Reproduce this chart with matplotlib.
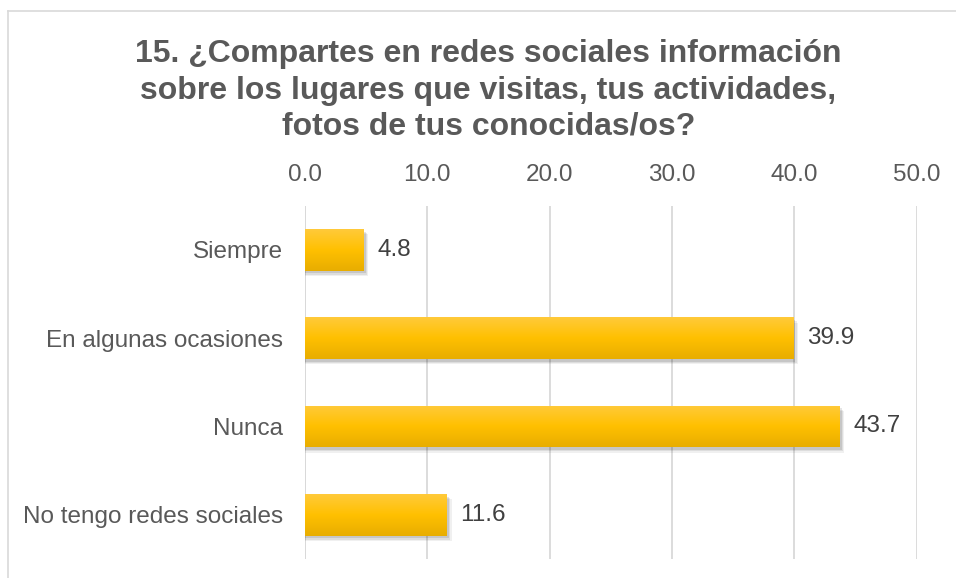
import numpy as np
import matplotlib.pyplot as plt
from matplotlib.colors import LinearSegmentedColormap
from matplotlib.patches import Rectangle
from matplotlib.lines import Line2D

categories = ["Siempre", "En algunas ocasiones", "Nunca", "No tengo redes sociales"]
values = [4.8, 39.9, 43.7, 11.6]
ticks = [0, 10, 20, 30, 40, 50]

title = ("15. ¿Compartes en redes sociales información\n"
         "sobre los lugares que visitas, tus actividades,\n"
         "fotos de tus conocidas/os?")

plt.rcParams['font.family'] = ['Liberation Sans', 'DejaVu Sans']

fig = plt.figure(figsize=(9.56, 5.78), dpi=100)
ax = fig.add_axes([0.319, 0.033, 0.64, 0.611])

grad = LinearSegmentedColormap.from_list("gold", ["#ffca3a", "#ffc000", "#e8ad00"])
height = 0.47
y = np.arange(len(categories))

for i, v in enumerate(values):
    # soft shadow
    for k, a in enumerate([0.10, 0.08, 0.06]):
        d = 0.15 + k * 0.12
        ax.add_patch(Rectangle((0, i - height / 2 + 0.03 + k * 0.015), v + d, height,
                               facecolor="black", alpha=a, edgecolor="none", zorder=2))
    bar = ax.barh(i, v, height, color="none", zorder=3)[0]
    img = ax.imshow(np.linspace(0, 1, 100).reshape(-1, 1), cmap=grad, aspect="auto",
                    extent=[0, v, i + height / 2, i - height / 2], zorder=3)
    img.set_clip_path(bar)
    ax.text(v + 1.1, i, "{:.1f}".format(v), va="center", ha="left",
            fontsize=17.5, color="#404040", zorder=4)

ax.set_xlim(0, 50)
ax.set_ylim(len(categories) - 0.5, -0.5)
ax.set_xticks(ticks)
ax.set_xticklabels(["{:.1f}".format(t) for t in ticks])
ax.set_yticks(y)
ax.set_yticklabels(categories)
ax.xaxis.tick_top()
ax.tick_params(axis="both", length=0, labelsize=17.5, labelcolor="#595959")
ax.tick_params(axis="x", pad=14)
ax.tick_params(axis="y", pad=16)
ax.grid(axis="x", color="#d9d9d9", linewidth=1.3, zorder=0)
ax.set_axisbelow(True)
for s in ax.spines.values():
    s.set_visible(False)
ax.axvline(0, color="#d9d9d9", linewidth=1.3, zorder=1)

fig.text(0.511, 0.932, title, ha="center", va="top", fontsize=23,
         fontweight="bold", color="#595959", linespacing=1.27)

fig.add_artist(Line2D([8 / 956, 1], [1 - 11 / 578] * 2, color="#d9d9d9", lw=1.2))
fig.add_artist(Line2D([8 / 956] * 2, [0, 1 - 11 / 578], color="#d9d9d9", lw=1.2))

fig.savefig("out.png", dpi=100)
